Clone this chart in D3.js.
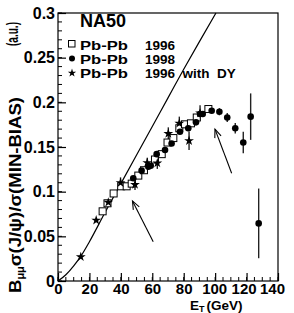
<!DOCTYPE html>
<html><head><meta charset="utf-8">
<script src="https://cdn.jsdelivr.net/npm/d3@7"></script>
<style>
html,body{margin:0;padding:0;background:#fff;}
svg{display:block;}
text{font-family:"Liberation Sans",Arial,Helvetica,sans-serif;font-weight:bold;fill:#000;}
</style></head>
<body>
<svg id="chart" width="294" height="313"></svg>
<script>
// ---- data ----
const xTicks = [0,20,40,60,80,100,120,140];
const xTickLabels = ["0","20","40","60","80","100","120","140"];
const yTicks = [0,0.05,0.1,0.15,0.2,0.25,0.3];
const yTickLabels = ["0","0.05","0.1","0.15","0.2","0.25","0.3"];

// Pb-Pb 1996 (open squares): [ET, value]
const pb1996 = [[28.4,0.078],[31.5,0.087],[35.4,0.098],[40.2,0.106],[43.7,0.106],[46.9,0.109],
  [51.1,0.118],[54.7,0.124],[61.7,0.136],[66.0,0.142],[69.7,0.155],[73.4,0.160],[77.2,0.171],
  [80.8,0.1754],[84.6,0.1765],[88.3,0.183],[95.7,0.1925]];
// Pb-Pb 1998 (filled circles): [ET, value, error]
const pb1998 = [[47.9,0.115,0],[53.2,0.1235,0],[57.5,0.128,0],[59.0,0.129,0],[62.8,0.142,0],
  [68.1,0.1466,0],[72.3,0.154,0],[77.6,0.167,0],[82.9,0.171,0],[87.8,0.1776,0],[90.4,0.187,0],
  [92.1,0.187,0],[97.8,0.1906,0],[102.7,0.1895,0.004],[107.7,0.183,0.005],[112.8,0.171,0.006],
  [117.9,0.155,0.012],[122.6,0.184,0.026],[127.7,0.0645,0.039]];
// Pb-Pb 1996 with DY (stars): [ET, value, error]
const pb1996dy = [[14.5,0.027,0],[24.3,0.068,0],[32.0,0.088,0],[39.8,0.110,0.006],[49.0,0.108,0.006],
  [56.8,0.1324,0.0056],[63.2,0.132,0.0065],[70.2,0.165,0.007],[77.2,0.1765,0.0075],
  [83.4,0.157,0.0103],[90.4,0.188,0.0088]];
// normal absorption curve
const curveE = [0,5,10,15,20,30,40,50,60,70,80,90,100.5];
const curveV = [0,0.007,0.017,0.029,0.044,0.077,0.109,0.141,0.173,0.205,0.237,0.268,0.3];
// annotation arrows: [tailE, tailV, tipE, tipV]
const arrows = [[60.6,0.044,47.4,0.0896],[110.5,0.1206,99.9,0.170]];

// ---- drawing ----
const svg = d3.select("#chart");
const x = d3.scaleLinear().domain([0,140]).range([58,278]);
const y = d3.scaleLinear().domain([0,0.3]).range([281,13]);

// frame
svg.append("rect").attr("x",58).attr("y",13).attr("width",220).attr("height",268)
  .attr("fill","none").attr("stroke","#000").attr("stroke-width",1.2);

// y axis: minor ticks
const yMinor = d3.range(0,0.3001,0.01);
svg.append("g").selectAll("line").data(yMinor).join("line")
  .attr("x1",x(0)).attr("x2",x(0)+4).attr("y1",d=>y(d)).attr("y2",d=>y(d))
  .attr("stroke","#000").attr("stroke-width",1);
const yAxis = d3.axisLeft(y).tickValues(yTicks).tickSizeInner(-8).tickSizeOuter(0)
  .tickPadding(3).tickFormat((d,i)=>yTickLabels[i]);
const gy = svg.append("g").attr("transform",`translate(${x(0)},0)`).call(yAxis);
gy.select(".domain").remove();
gy.selectAll("line").attr("stroke-width",1.2);
gy.selectAll("text").style("font-size","16px").attr("font-family",null);

// x axis
const xMinor = d3.range(0,140.1,5);
svg.append("g").selectAll("line").data(xMinor).join("line")
  .attr("x1",d=>x(d)).attr("x2",d=>x(d)).attr("y1",y(0)).attr("y2",y(0)-4)
  .attr("stroke","#000").attr("stroke-width",1);
const xAxis = d3.axisBottom(x).tickValues(xTicks).tickSizeInner(-8).tickSizeOuter(0)
  .tickPadding(2).tickFormat((d,i)=>xTickLabels[i]);
const gx = svg.append("g").attr("transform",`translate(0,${y(0)})`).call(xAxis);
gx.select(".domain").remove();
gx.selectAll("line").attr("stroke-width",1.2);
const xShift = [0,0,0,0,0,-1,-3,-6];
gx.selectAll("text").style("font-size","15px").attr("font-family",null)
  .attr("dx",(d,i)=>xShift[i]);

// curve
const line = d3.line().x(d=>x(d[0])).y(d=>y(d[1])).curve(d3.curveMonotoneX);
svg.append("path").datum(curveE.map((e,i)=>[e,curveV[i]])).attr("d",line)
  .attr("fill","none").attr("stroke","#000").attr("stroke-width",1.2);

// arrows
arrows.forEach(a=>{
  const x1=x(a[0]),y1=y(a[1]),x2=x(a[2]),y2=y(a[3]);
  const ang=Math.atan2(y1-y2,x1-x2), L=9, s=0.38;
  svg.append("line").attr("x1",x1).attr("y1",y1).attr("x2",x2).attr("y2",y2)
    .attr("stroke","#000").attr("stroke-width",1.1);
  svg.append("path").attr("d",`M${x2+L*Math.cos(ang+s)},${y2+L*Math.sin(ang+s)}L${x2},${y2}L${x2+L*Math.cos(ang-s)},${y2+L*Math.sin(ang-s)}`)
    .attr("fill","none").attr("stroke","#000").attr("stroke-width",1.1);
});

// error bars
const errG = svg.append("g").attr("stroke","#222").attr("stroke-width",1.4);
pb1998.concat(pb1996dy).filter(d=>d[2]>0).forEach(d=>{
  errG.append("line").attr("x1",x(d[0])).attr("x2",x(d[0]))
    .attr("y1",y(d[1]-d[2])).attr("y2",y(d[1]+d[2]));
});

// markers
svg.append("g").selectAll("rect").data(pb1996).join("rect")
  .attr("x",d=>x(d[0])-3.5).attr("y",d=>y(d[1])-3.5).attr("width",7).attr("height",7)
  .attr("fill","#fff").attr("stroke","#000").attr("stroke-width",1);
svg.append("g").selectAll("circle").data(pb1998).join("circle")
  .attr("cx",d=>x(d[0])).attr("cy",d=>y(d[1])).attr("r",3.3).attr("fill","#000");
const star = d3.symbol().type(d3.symbolStar).size(30);
svg.append("g").selectAll("path").data(pb1996dy).join("path")
  .attr("d",star).attr("transform",d=>`translate(${x(d[0])},${y(d[1])})`).attr("fill","#000");

// legend
svg.append("text").attr("x",80).attr("y",27).style("font-size","18px").text("NA50");
const legRows = [{t:"1996",y:49.5,k:"sq"},{t:"1998",y:63.5,k:"ci"},{t:"1996  with  DY",y:78,k:"st"}];
legRows.forEach(r=>{
  const cy=r.y-5;
  if(r.k==="sq") svg.append("rect").attr("x",68.5).attr("y",cy-4).attr("width",6.5).attr("height",6.5)
      .attr("fill","#fff").attr("stroke","#000");
  if(r.k==="ci") svg.append("circle").attr("cx",72).attr("cy",cy).attr("r",3).attr("fill","#000");
  if(r.k==="st") svg.append("path").attr("d",d3.symbol().type(d3.symbolStar).size(22))
      .attr("transform",`translate(72,${cy})`).attr("fill","#000");
  svg.append("text").attr("x",80).attr("y",r.y).style("font-size","13px")
    .attr("textLength",48).attr("lengthAdjust","spacingAndGlyphs").text("Pb-Pb");
  svg.append("text").attr("x",145).attr("y",r.y).style("font-size","13.5px")
    .attr("xml:space","preserve").style("white-space","pre").text(r.t);
});

// y axis title
const yt = svg.append("text").attr("transform","translate(21,293) rotate(-90)")
  .style("font-size","17px").attr("textLength",196).attr("lengthAdjust","spacingAndGlyphs");
yt.append("tspan").text("B");
yt.append("tspan").style("font-size","10px").attr("dy",3).text("μμ");
yt.append("tspan").attr("dy",-3).text("σ(J/ψ)/σ(MIN-BIAS)");
svg.append("text").attr("transform","translate(18,46) rotate(-90)")
  .style("font-size","16px").attr("textLength",24).attr("lengthAdjust","spacingAndGlyphs").text("(a.u.)");

// x axis title
const xt = svg.append("text").attr("x",190).attr("y",310).style("font-size","13.5px");
xt.append("tspan").text("E");
xt.append("tspan").style("font-size","9px").attr("dy",2).text("T");
xt.append("tspan").attr("dy",-2).attr("dx",2).text("(GeV)");
</script>
</body></html>
